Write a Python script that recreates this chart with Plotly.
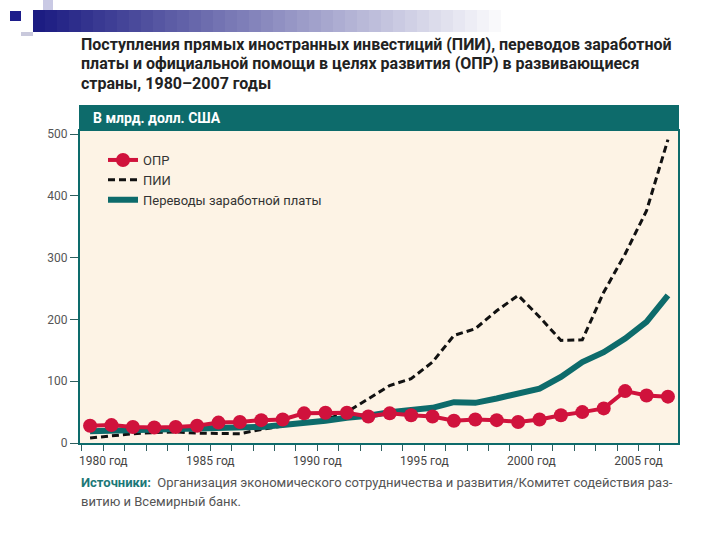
import plotly.graph_objects as go

# ------------------------------------------
# data, bn US$
# ------------------------------------------
years = list(range(1980, 2008))

oda = [28, 29, 26, 25, 26, 28, 33, 34, 37, 38,
       48, 49, 49, 43, 48, 45, 43, 36, 38, 37,
       34, 38, 45, 50, 56, 84, 77, 75]

fdi = [8, 12, 15, 17, 18, 16, 15, 15, 22, 27,
       33, 38, 50, 72, 93, 104, 131, 174, 185, 214,
       239, 204, 166, 167, 244, 306, 376, 491]

remit = [19, 20, 21, 21, 21, 22, 23, 24, 26, 29,
         32, 36, 41, 44, 50, 54, 57, 66, 65, 72,
         79, 88, 107, 131, 147, 169, 196, 239]

label_years = [1980, 1985, 1990, 1995, 2000, 2005]
y_ticks = [0, 100, 200, 300, 400, 500]

RED = "#d0123c"
TEAL = "#0d6b6b"
BEIGE = "#fdf3e5"
FONT = "Roboto"

# plot box in pixels (720x540 page)
L, R, T, B = 80, 678, 131, 443


def px(x):
    return (x - L) / (R - L)


def py(y):
    return (B - y) / (B - T)


fig = go.Figure()

fig.add_trace(go.Scatter(
    x=years, y=fdi, name="ПИИ", mode="lines", legendrank=2,
    line=dict(color="#111111", width=3, dash="7px,4px"),
))
fig.add_trace(go.Scatter(
    x=years, y=remit, name="Переводы заработной платы", mode="lines", legendrank=3,
    line=dict(color=TEAL, width=6),
))
fig.add_trace(go.Scatter(
    x=years, y=oda, name="ОПР", mode="lines+markers", legendrank=1,
    line=dict(color=RED, width=4),
    marker=dict(color=RED, size=14),
))

# x ticks sit a bit to the right of each year's point, as in the original
tick_years = list(range(1979, 2008))
tickvals = [y + 0.62 for y in tick_years]
ticktext = [f"{y} год" if y in label_years else "" for y in tick_years]

fig.update_xaxes(
    range=[1979.53, 2007.47],
    tickvals=tickvals, ticktext=ticktext,
    ticks="outside", ticklen=6, tickwidth=1.3, tickcolor="#2f5f5f",
    showgrid=False, zeroline=False,
    showline=True, linecolor=TEAL, linewidth=2, mirror=True,
    tickfont=dict(family=FONT, size=12, color="#444444"),
)
fig.update_yaxes(
    range=[0, 505],
    tickvals=y_ticks,
    ticks="outside", ticklen=8, tickwidth=1.3, tickcolor="#2f5f5f",
    showgrid=False, zeroline=False,
    showline=True, linecolor=TEAL, linewidth=2, mirror=True,
    tickfont=dict(family=FONT, size=12, color="#555555"),
)

# ------------------------------------------
# decoration: header bar, slide template bits
# ------------------------------------------
shapes = [
    dict(type="rect", xref="paper", yref="paper",
         x0=px(L - 1), x1=px(R + 1), y0=py(T), y1=py(105),
         fillcolor=TEAL, line=dict(width=0), layer="above"),
    dict(type="rect", xref="paper", yref="paper",
         x0=px(10), x1=px(21), y0=py(21), y1=py(11),
         fillcolor="#1c1c8a", line=dict(width=0)),
    dict(type="rect", xref="paper", yref="paper",
         x0=px(43), x1=px(53), y0=py(22), y1=py(0),
         fillcolor="#c9c9e4", line=dict(width=0)),
    dict(type="rect", xref="paper", yref="paper",
         x0=px(21), x1=px(33), y0=py(36), y1=py(32),
         fillcolor="#c9c9dc", line=dict(width=0)),
]
steps = 40
for i in range(steps):
    t = i / (steps - 1)
    r = int(28 + (255 - 28) * t)
    g = int(28 + (255 - 28) * t)
    b = int(130 + (255 - 130) * t)
    x0 = 33 + i * (480 / steps)
    shapes.append(dict(type="rect", xref="paper", yref="paper",
                       x0=px(x0), x1=px(x0 + 480 / steps + 0.5),
                       y0=py(32), y1=py(10),
                       fillcolor=f"rgb({r},{g},{b})", line=dict(width=0)))

annotations = [
    dict(text="<b>В млрд. долл. США</b>", xref="paper", yref="paper",
         x=px(91), y=py(118), xanchor="left", yanchor="middle", showarrow=False,
         font=dict(family=FONT, size=14, color="white")),
    dict(text="<b>Источники:</b> <span style='color:#555555'> Организация экономического сотрудничества и развития/Комитет содействия раз-</span>",
         xref="paper", yref="paper", x=px(79), y=py(482), xanchor="left", yanchor="middle",
         showarrow=False, font=dict(family=FONT, size=13, color="#1c7878")),
    dict(text="витию и Всемирный банк.",
         xref="paper", yref="paper", x=px(79), y=py(501), xanchor="left", yanchor="middle",
         showarrow=False, font=dict(family=FONT, size=13, color="#555555")),
]
title_lines = [
    ("Поступления прямых иностранных инвестиций (ПИИ), переводов заработной", 44),
    ("платы и официальной помощи в целях развития (ОПР) в развивающиеся", 63),
    ("страны, 1980–2007 годы", 83),
]
for line, ypx in title_lines:
    annotations.append(dict(
        text=f"<b>{line}</b>", xref="paper", yref="paper",
        x=px(79), y=py(ypx), xanchor="left", yanchor="middle", showarrow=False,
        font=dict(family=FONT, size=16, color="#222222")))

fig.update_layout(
    width=720, height=540,
    margin=dict(l=L, r=720 - R, t=T, b=540 - B),
    paper_bgcolor="white",
    plot_bgcolor=BEIGE,
    font=dict(family=FONT, color="#333333"),
    showlegend=True,
    legend=dict(
        x=px(103), y=py(145), xanchor="left", yanchor="top",
        bgcolor="rgba(0,0,0,0)", tracegroupgap=0, itemwidth=30,
        font=dict(family=FONT, size=13, color="#333333"),
    ),
    shapes=shapes,
    annotations=annotations,
)

# drop the default 8px body margin so the page lines up with the window
fig.write_html("out.html", config={"displayModeBar": False},
               post_script="document.body.style.margin='0';")
